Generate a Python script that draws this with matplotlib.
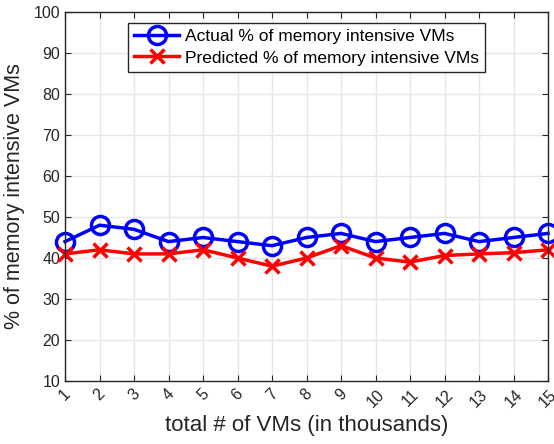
import numpy as np
import matplotlib
matplotlib.use('Agg')
import matplotlib.pyplot as plt

plt.rcParams['font.family'] = ['Liberation Sans', 'DejaVu Sans']

# data
vms = list(range(1, 16))
actual = [44, 48, 47, 44, 45, 44, 43, 45, 46, 44, 45, 46, 44, 45, 46]
predicted = [41, 42, 41, 41, 42, 40, 38, 40, 43, 40, 39, 40.6, 41, 41.3, 42]
yticks = list(range(10, 101, 10))

fig = plt.figure(figsize=(5.54, 4.44), dpi=100)
ax = fig.add_axes([65 / 554, 1 - 381 / 444, (548 - 65) / 554, (381 - 12) / 444])

ax.plot(vms, actual, '-o', color='blue', lw=2.5, ms=13, mfc='none', mew=2.5,
        label='Actual % of memory intensive VMs', clip_on=False)
ax.plot(vms, predicted, '-x', color='red', lw=2.5, ms=10, mew=2.5,
        label='Predicted % of memory intensive VMs', clip_on=False)

ax.set_xlim(1, 15)
ax.set_ylim(10, 100)
ax.set_xticks(vms)
ax.set_xticklabels([str(v) for v in vms], rotation=45, ha='center', va='top')
ax.set_yticks(yticks)
ax.grid(True, color='#e6e6e6', lw=1)
ax.set_axisbelow(True)
ax.tick_params(direction='in', top=True, right=True, labelsize=11.5,
               colors='#262626', length=4)
ax.tick_params(axis='x', pad=4)
for s in ax.spines.values():
    s.set_color('#262626')
    s.set_linewidth(1)

ax.set_xlabel('total # of VMs (in thousands)', fontsize=16, color='#262626')
ax.set_ylabel('% of memory intensive VMs', fontsize=15.5, color='#262626',
              labelpad=6)

leg = ax.legend(loc='upper center', bbox_to_anchor=(0.5, 0.97), fontsize=12.5,
                fancybox=False, framealpha=1, edgecolor='#262626',
                handlelength=2.6, borderpad=0.35, labelspacing=0.35,
                handletextpad=0.3, borderaxespad=0)
leg.get_frame().set_linewidth(1)

fig.savefig('out.png', dpi=100)
